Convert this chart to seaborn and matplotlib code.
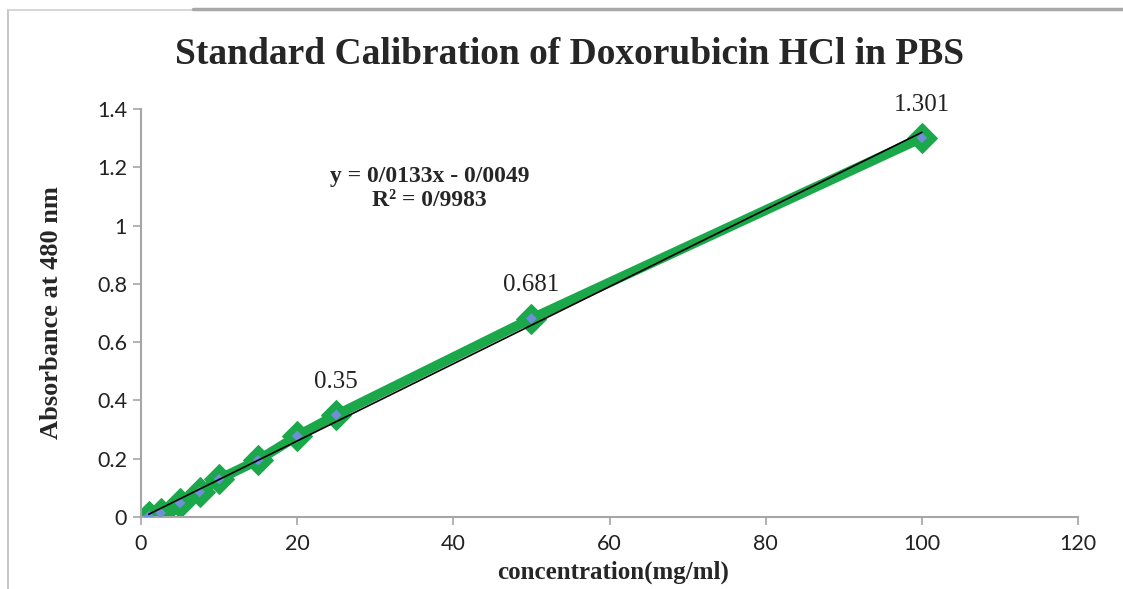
import numpy as np
import pandas as pd
import matplotlib
matplotlib.use("Agg")
import matplotlib.pyplot as plt
import seaborn as sns

# Data
concentration = [1, 2.5, 5, 7.5, 10, 15, 20, 25, 50, 100]
absorbance = [0.003, 0.014, 0.048, 0.086, 0.13, 0.195, 0.278, 0.35, 0.681, 1.301]
labeled_points = {25: "0.35", 50: "0.681", 100: "1.301"}
title = "Standard Calibration of Doxorubicin HCl in PBS"
equation_text = "y = 0/0133x - 0/0049\nR² = 0/9983"
x_ticks = [0, 20, 40, 60, 80, 100, 120]
y_ticks = [0, 0.2, 0.4, 0.6, 0.8, 1.0, 1.2, 1.4]
y_tick_labels = ["0", "0.2", "0.4", "0.6", "0.8", "1", "1.2", "1.4"]

df = pd.DataFrame({"conc": concentration, "abs": absorbance})

sns.set_style("white")
serif = "Liberation Serif"
sans = "Lato"

fig = plt.figure(figsize=(11.23, 5.89), dpi=100)
ax = fig.add_axes([141/1123, 1-517/589, (1078-141)/1123, (517-109)/589])

# thick green series line with diamond markers
sns.lineplot(data=df, x="conc", y="abs", ax=ax, color="#1aa84a", linewidth=7,
             marker="D", markersize=15, markeredgecolor="#1aa84a",
             markerfacecolor="#1aa84a", zorder=2)
# inner blue dots
sns.scatterplot(data=df, x="conc", y="abs", ax=ax, marker="D", s=30,
                color="#6f8fd8", edgecolor="none", zorder=3)

# linear trendline
slope, intercept = np.polyfit(df["conc"], df["abs"], 1)
xs = np.array([min(concentration), max(concentration)])
ax.plot(xs, slope*xs + intercept, color="black", linewidth=1.2, zorder=4)

for xv, lab in labeled_points.items():
    yv = absorbance[concentration.index(xv)]
    ax.annotate(lab, (xv, yv), xytext=(0, 16), textcoords="offset points",
                ha="center", va="bottom", fontsize=18, family=serif, color="#222222")

ax.text(0.308, 0.86, equation_text, transform=ax.transAxes, ha="center", va="top",
        fontsize=17, fontweight="bold", family=serif, linespacing=1.15)

ax.set_xlim(0, 120)
ax.set_ylim(0, 1.4)
ax.set_xticks(x_ticks)
ax.set_yticks(y_ticks)
ax.set_yticklabels(y_tick_labels)
for lbl in ax.get_xticklabels() + ax.get_yticklabels():
    lbl.set_family(sans)
    lbl.set_fontsize(15.5)
    lbl.set_color("#222222")
ax.tick_params(axis="x", direction="out", length=6, width=1.2, color="#a6a6a6", pad=6, bottom=True)
ax.tick_params(axis="y", direction="out", length=6, width=1.2, color="#a6a6a6", pad=4, left=True)

for s in ["top", "right"]:
    ax.spines[s].set_visible(False)
for s in ["left", "bottom"]:
    ax.spines[s].set_color("#a6a6a6")
    ax.spines[s].set_linewidth(1.5)

ax.set_xlabel("concentration(mg/ml)", fontsize=18, fontweight="bold", family=serif)
ax.set_ylabel("Absorbance at 480 nm", fontsize=19, fontweight="bold", family=serif)
ax.xaxis.set_label_coords(0.504, -0.108)
ax.yaxis.set_label_coords(-0.083, 0.5)

fig.text(570/1123, 1-55/589, title, ha="center", va="center", fontsize=27,
         fontweight="bold", family=serif)

# outer chart frame
fig.add_artist(plt.Line2D([8/1123, 8/1123], [0, 1-10/589], color="#c8c8c8", linewidth=1.5))
fig.add_artist(plt.Line2D([8/1123, 195/1123], [1-10/589, 1-10/589], color="#d0d0d0", linewidth=1.2))
fig.add_artist(plt.Line2D([193/1123, 1], [1-9/589, 1-9/589], color="#a8a8a8", linewidth=2.5))

fig.savefig("out.png", dpi=100)
